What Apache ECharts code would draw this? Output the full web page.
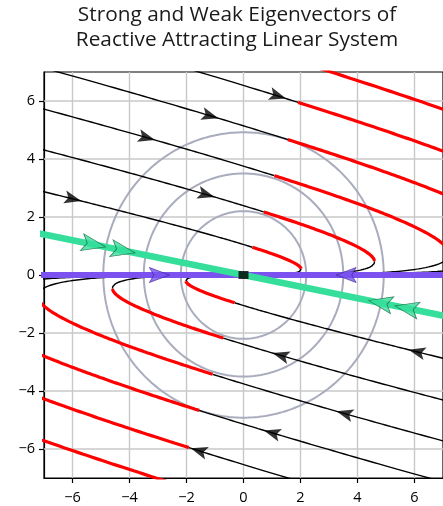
<!DOCTYPE html>
<html><head><meta charset="utf-8">
<script src="https://cdn.jsdelivr.net/npm/echarts@6/dist/echarts.min.js"></script>
<style>html,body{margin:0;padding:0;background:#fff}#c{width:443px;height:506px}</style>
</head><body><div id="c"></div>
<script>
const TITLE_LINES = ['Strong and Weak Eigenvectors of', 'Reactive Attracting Linear System'];
const X_TICKS = [-6, -4, -2, 0, 2, 4, 6];
const Y_TICKS = [-6, -4, -2, 0, 2, 4, 6];
const AXIS_MIN = -7, AXIS_MAX = 7;
// linear system dx/dt = A x
const SYSTEM_A = [[-1, 10], [0, -3]];
// points where each trajectory enters the plotting box
const START_X = [-7, -7, -7, -6.5, -1.56, 3.07, 7, 7, 7, 6.5, 1.56, -3.07];
const START_Y = [2.87, 4.31, 5.72, 7, 7, 7, -2.87, -4.31, -5.72, -7, -7, -7];
// x position of the direction arrow on each trajectory (null = none)
const ARROW_X = [-6.05, -1.33, -3.5, -1.17, 1.2, null, 6.12, 1.31, 3.55, 1.14, -1.4, null];
// radii of the reference circles
const CIRCLE_R = [2.2, 3.5, 4.92];
// arrow positions (x) on the weak and strong eigenvector lines
const WEAK_ARROW_X = [-2.95, 3.6];
const STRONG_ARROW_X = [-5.25, -4.22, 4.8, 5.72];
const EQUILIBRIUM = [[0, 0]];

const PX = 29.0; // approx pixels per unit, both axes (for arrow angles)
const ARROW_PATH = 'path://M6,0 L12,16 L6,12.5 L0,16 Z';

function eig(A) {
  const a = A[0][0], b = A[0][1], c = A[1][0], d = A[1][1];
  const tr = a + d, det = a * d - b * c;
  const disc = Math.sqrt(tr * tr - 4 * det);
  const lams = [(tr + disc) / 2, (tr - disc) / 2]; // weak (slow), strong (fast)
  const vecs = lams.map(l => {
    let v;
    if (Math.abs(b) > 1e-12) v = [b, l - a];
    else if (Math.abs(c) > 1e-12) v = [l - d, c];
    else v = (Math.abs(l - a) < 1e-12) ? [1, 0] : [0, 1];
    const n = Math.hypot(v[0], v[1]);
    return [v[0] / n, v[1] / n];
  });
  return { lams, vecs };
}
const E = eig(SYSTEM_A);
function applyA(p) {
  return [SYSTEM_A[0][0] * p[0] + SYSTEM_A[0][1] * p[1], SYSTEM_A[1][0] * p[0] + SYSTEM_A[1][1] * p[1]];
}
function solveTraj(p0) {
  const [v1, v2] = E.vecs, [l1, l2] = E.lams;
  const det = v1[0] * v2[1] - v2[0] * v1[1];
  const c1 = (p0[0] * v2[1] - v2[0] * p0[1]) / det;
  const c2 = (v1[0] * p0[1] - p0[0] * v1[1]) / det;
  const pts = [];
  for (let t = -0.6; t <= 9; t += 0.003) {
    const e1 = c1 * Math.exp(l1 * t), e2 = c2 * Math.exp(l2 * t);
    pts.push([e1 * v1[0] + e2 * v2[0], e1 * v1[1] + e2 * v2[1]]);
  }
  return pts;
}
function angleDeg(p) {
  const v = applyA(p);
  return Math.atan2(v[1] * PX, v[0] * PX) * 180 / Math.PI - 90;
}

const series = [];
// grid lines at tick values
X_TICKS.forEach(v => series.push({ type: 'line', data: [[v, AXIS_MIN], [v, AXIS_MAX]], showSymbol: false, symbol: 'none',
  silent: true, z: 1, lineStyle: { color: '#c8c8c8', width: 1.4 } }));
Y_TICKS.forEach(v => series.push({ type: 'line', data: [[AXIS_MIN, v], [AXIS_MAX, v]], showSymbol: false, symbol: 'none',
  silent: true, z: 1, lineStyle: { color: '#c8c8c8', width: 1.4 } }));
// circles
CIRCLE_R.forEach(r => {
  const pts = [];
  for (let i = 0; i <= 360; i++) { const a = i * Math.PI / 180; pts.push([r * Math.cos(a), r * Math.sin(a)]); }
  series.push({ type: 'line', data: pts, showSymbol: false, symbol: 'none', silent: true, z: 2,
    lineStyle: { color: '#a9acbd', width: 2 }, clip: true });
});
// trajectories split into growing (red) / shrinking (black) parts
const arrowData = [];
START_X.forEach((sx, i) => {
  const pts = solveTraj([sx, START_Y[i]]);
  let seg = [pts[0]];
  const grow = p => { const v = applyA(p); return p[0] * v[0] + p[1] * v[1] > 0; };
  let cur = grow(pts[0]);
  const flush = (g) => {
    series.push({ type: 'line', data: seg, showSymbol: false, symbol: 'none', silent: true, clip: true,
      z: g ? 4 : 3, lineStyle: { color: g ? '#ff0000' : '#000000', width: g ? 3.2 : 1.4 } });
  };
  for (let k = 1; k < pts.length; k++) {
    const g = grow(pts[k]);
    seg.push(pts[k]);
    if (g !== cur) { flush(cur); seg = [pts[k]]; cur = g; }
  }
  flush(cur);
  if (ARROW_X[i] !== null) {
    const ax = ARROW_X[i];
    let best = -1;
    for (let k = 1; k < pts.length; k++) {
      if ((pts[k - 1][0] - ax) * (pts[k][0] - ax) <= 0) { best = k; break; }
    }
    if (best >= 0) {
      const p = pts[best];
      arrowData.push({ value: p, symbolRotate: angleDeg(p) });
    }
  }
});
// eigenvector lines
const vw = E.vecs[0], vs = E.vecs[1];
series.push({ type: 'line', data: [[-12 * vw[0], -12 * vw[1]], [12 * vw[0], 12 * vw[1]]], showSymbol: false, symbol: 'none',
  silent: true, clip: true, z: 5, lineStyle: { color: '#7b52ef', width: 6 } });
series.push({ type: 'line', data: [[-12 * vs[0], -12 * vs[1]], [12 * vs[0], 12 * vs[1]]], showSymbol: false, symbol: 'none',
  silent: true, clip: true, z: 6, lineStyle: { color: '#36de9b', width: 6.5 } });
// arrows on trajectories
series.push({ type: 'scatter', data: arrowData, symbol: ARROW_PATH, symbolSize: [13, 17], silent: true, z: 7,
  itemStyle: { color: '#000' } });
// arrows on weak eigenvector
series.push({ type: 'scatter', silent: true, z: 8, symbol: ARROW_PATH, symbolSize: [15, 20],
  data: WEAK_ARROW_X.map(x => { const p = [x, x * vw[1] / vw[0]]; return { value: p, symbolRotate: angleDeg(p) }; }),
  itemStyle: { color: '#7b52ef', borderColor: '#3d2399', borderWidth: 0.8 } });
// arrows on strong eigenvector
series.push({ type: 'scatter', silent: true, z: 8, symbol: ARROW_PATH, symbolSize: [17, 24],
  data: STRONG_ARROW_X.map(x => { const p = [x, x * vs[1] / vs[0]]; return { value: p, symbolRotate: angleDeg(p) }; }),
  itemStyle: { color: '#36de9b', borderColor: '#1b6b45', borderWidth: 0.8 } });
// equilibrium
series.push({ type: 'scatter', silent: true, z: 9, symbol: 'rect', symbolSize: [10, 8], data: EQUILIBRIUM,
  itemStyle: { color: '#000' } });

const fmt = v => String(v).replace('-', '\u2212');
const axisCommon = (ticks) => ({
  type: 'value', min: AXIS_MIN, max: AXIS_MAX,
  axisLine: { show: true, onZero: false, lineStyle: { color: '#000', width: 1.2 } },
  axisTick: { show: true, customValues: ticks, length: 5, inside: false, lineStyle: { color: '#000', width: 1.2 } },
  axisLabel: { customValues: ticks, formatter: fmt, color: '#000', fontFamily: 'Open Sans', fontSize: 14.5, margin: 9 },
  splitLine: { show: false }
});

const chart = echarts.init(document.getElementById('c'), null, { renderer: 'canvas' });
const xA = axisCommon(X_TICKS); xA.axisLabel.margin = 12;
chart.setOption({
  animation: false,
  backgroundColor: '#fff',
  title: { text: TITLE_LINES.join('\n'), left: 232, top: -2, textAlign: 'center',
    textStyle: { fontFamily: 'Open Sans', fontSize: 20.8, fontWeight: 'normal', color: '#1a1a1a', lineHeight: 25 } },
  grid: { left: 44, top: 72, width: 406, height: 406, show: true, borderColor: '#000', borderWidth: 1.2, backgroundColor: 'transparent' },
  xAxis: xA,
  yAxis: axisCommon(Y_TICKS),
  series
});
</script></body></html>
